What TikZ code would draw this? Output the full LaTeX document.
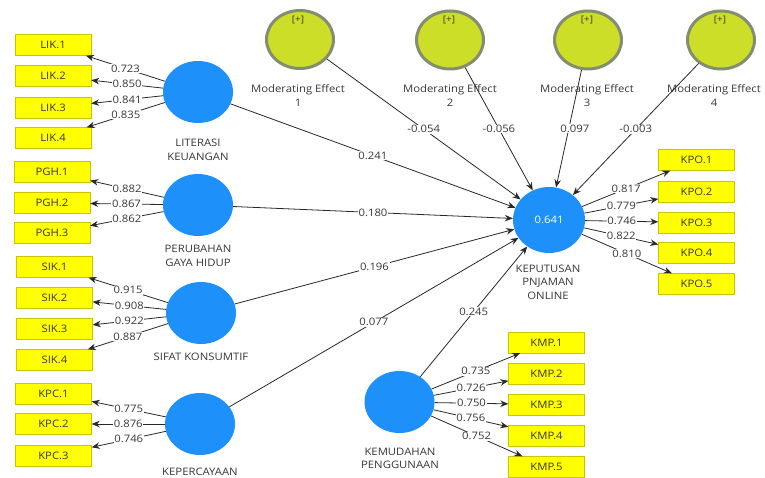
\documentclass[tikz,border=0pt]{standalone}
\usepackage{fontspec}
\setmainfont{Open Sans}[FakeStretch=1.1]
\usetikzlibrary{arrows.meta,shapes.geometric}
\definecolor{lvblue}{RGB}{30,144,250}
\definecolor{indyel}{RGB}{255,255,0}
\definecolor{indbord}{RGB}{205,195,0}
\definecolor{modfill}{RGB}{205,222,40}
\definecolor{modbord}{RGB}{130,142,112}
\definecolor{lineg}{RGB}{40,40,40}
\definecolor{txtg}{RGB}{55,55,55}
\begin{document}
\begin{tikzpicture}[x=1pt,y=-1pt,
  lv/.style={ellipse,fill=lvblue,minimum width=70pt,minimum height=62pt,inner sep=0pt},
  modlv/.style={ellipse,draw=modbord,line width=3pt,fill=modfill,minimum width=67pt,minimum height=58pt,inner sep=0pt},
  ind/.style={draw=indbord,fill=indyel,minimum width=76pt,minimum height=21pt,inner sep=0pt,font=\fontsize{10.3}{12}\selectfont,text=txtg},
  coef/.style={fill=white,inner sep=0.6pt,font=\fontsize{10.3}{12}\selectfont,text=txtg},
  lvlab/.style={align=center,font=\fontsize{10.3}{13.5}\selectfont,text=txtg},
  plus/.style={font=\fontsize{9}{10}\selectfont,text=txtg},
  arr/.style={draw=lineg,line width=0.8pt,-{Stealth[length=8pt,width=6.5pt]}}]
\useasboundingbox (0,0) rectangle (765,478);
\clip (0,0) rectangle (765,478);
% latent variables
\node[lv] (LIT) at (198,92) {};
\node[lv] (PGH) at (198,205) {};
\node[lv] (SIK) at (201,313) {};
\node[lv] (KPC) at (200,424) {};
\node[lv,minimum width=72pt,minimum height=66pt,text=white,font=\fontsize{10.3}{12}\selectfont] (KPO) at (549,220) {0.641};
\node[lv] (KMP) at (399.5,402) {};
% moderating effects
\node[modlv] (ME1) at (300,39.5) {};
\node[modlv] (ME2) at (450,40) {};
\node[modlv] (ME3) at (588,40) {};
\node[modlv] (ME4) at (721,40) {};
\node[plus] (P1) at (298,20) {[+]};
\node[plus] (P2) at (449,20) {[+]};
\node[plus] (P3) at (587,20) {[+]};
\node[plus] (P4) at (720,20) {[+]};
% labels
\node[lvlab] (LLIT) at (198,150) {LITERASI\\KEUANGAN};
\node[lvlab] (LPGH) at (198,256) {PERUBAHAN\\GAYA HIDUP};
\node[lvlab] (LSIK) at (201,357) {SIFAT KONSUMTIF};
\node[lvlab] (LKPC) at (200,472) {KEPERCAYAAN};
\node[lvlab] (LKPO) at (548,282) {KEPUTUSAN\\PNJAMAN\\ONLINE};
\node[lvlab] (LKMP) at (400,458.5) {KEMUDAHAN\\PENGGUNAAN};
\node[lvlab] (LME1) at (298,95.5) {Moderating Effect\\1};
\node[lvlab] (LME2) at (450,95.5) {Moderating Effect\\2};
\node[lvlab] (LME3) at (587,95.5) {Moderating Effect\\3};
\node[lvlab] (LME4) at (714,95.5) {Moderating Effect\\4};
% indicators
\node[ind] (LIK1) at (53,45) {LIK.1};
\node[ind] (LIK2) at (53,76) {LIK.2};
\node[ind] (LIK3) at (53,107.5) {LIK.3};
\node[ind] (LIK4) at (53,138) {LIK.4};
\node[ind] (PGH1) at (52,172) {PGH.1};
\node[ind] (PGH2) at (52,203) {PGH.2};
\node[ind] (PGH3) at (52,233) {PGH.3};
\node[ind] (SIK1) at (54.5,267) {SIK.1};
\node[ind] (SIK2) at (54.5,298) {SIK.2};
\node[ind] (SIK3) at (54.5,329) {SIK.3};
\node[ind] (SIK4) at (54.5,360) {SIK.4};
\node[ind] (KPC1) at (53.5,393.5) {KPC.1};
\node[ind] (KPC2) at (53.5,424) {KPC.2};
\node[ind] (KPC3) at (53.5,455.5) {KPC.3};
\node[ind] (KPO1) at (696.5,160) {KPO.1};
\node[ind] (KPO2) at (696.5,191.5) {KPO.2};
\node[ind] (KPO3) at (696.5,222.5) {KPO.3};
\node[ind] (KPO4) at (696.5,253) {KPO.4};
\node[ind] (KPO5) at (696.5,284) {KPO.5};
\node[ind] (KMP1) at (546.5,342.5) {KMP.1};
\node[ind] (KMP2) at (546.5,373.5) {KMP.2};
\node[ind] (KMP3) at (546.5,404.5) {KMP.3};
\node[ind] (KMP4) at (546.5,435.5) {KMP.4};
\node[ind] (KMP5) at (546.5,467) {KMP.5};
% outer model
\draw[arr] (LIT) -- node[coef]{0.723} (LIK1);
\draw[arr] (LIT) -- node[coef]{0.850} (LIK2);
\draw[arr] (LIT) -- node[coef]{0.841} (LIK3);
\draw[arr] (LIT) -- node[coef]{0.835} (LIK4);
\draw[arr] (PGH) -- node[coef]{0.882} (PGH1);
\draw[arr] (PGH) -- node[coef]{0.867} (PGH2);
\draw[arr] (PGH) -- node[coef]{0.862} (PGH3);
\draw[arr] (SIK) -- node[coef]{0.915} (SIK1);
\draw[arr] (SIK) -- node[coef]{0.908} (SIK2);
\draw[arr] (SIK) -- node[coef]{0.922} (SIK3);
\draw[arr] (SIK) -- node[coef]{0.887} (SIK4);
\draw[arr] (KPC) -- node[coef]{0.775} (KPC1);
\draw[arr] (KPC) -- node[coef]{0.876} (KPC2);
\draw[arr] (KPC) -- node[coef]{0.746} (KPC3);
\draw[arr] (KPO) -- node[coef]{0.817} (KPO1);
\draw[arr] (KPO) -- node[coef]{0.779} (KPO2);
\draw[arr] (KPO) -- node[coef]{0.746} (KPO3);
\draw[arr] (KPO) -- node[coef]{0.822} (KPO4);
\draw[arr] (KPO) -- node[coef]{0.810} (KPO5);
\draw[arr] (KMP) -- node[coef]{0.735} (KMP1);
\draw[arr] (KMP) -- node[coef]{0.726} (KMP2);
\draw[arr] (KMP) -- node[coef]{0.750} (KMP3);
\draw[arr] (KMP) -- node[coef]{0.756} (KMP4);
\draw[arr] (KMP) -- node[coef]{0.752} (KMP5);
% inner model
\draw[arr] (LIT) -- node[coef]{0.241} (KPO);
\draw[arr] (PGH) -- node[coef]{0.180} (KPO);
\draw[arr] (SIK) -- node[coef]{0.196} (KPO);
\draw[arr] (KPC) -- node[coef]{0.077} (KPO);
\draw[arr] (KMP) -- node[coef]{0.245} (KPO);
\draw[arr] (ME1) -- node[coef]{-0.054} (KPO);
\draw[arr] (ME2) -- node[coef]{-0.056} (KPO);
\draw[arr] (ME3) -- node[coef,xshift=6pt]{0.097} (KPO);
\draw[arr] (ME4) -- node[coef]{-0.003} (KPO);
\end{tikzpicture}
\end{document}
